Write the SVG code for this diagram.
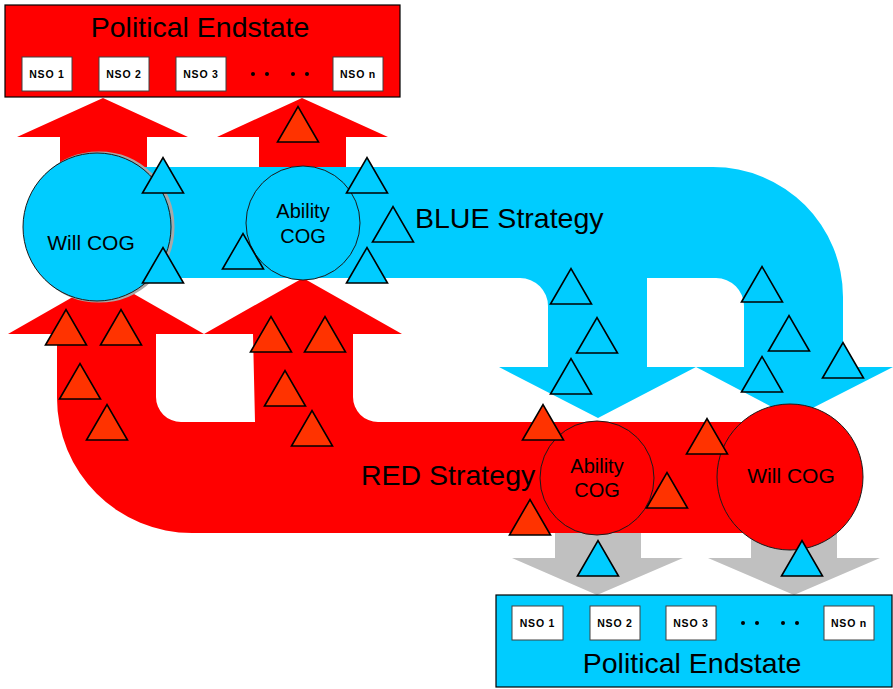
<svg xmlns="http://www.w3.org/2000/svg" xmlns:xlink="http://www.w3.org/1999/xlink" width="893" height="689" viewBox="0 0 893 689">
<style>
text{font-family:"Liberation Sans",Arial,sans-serif;fill:#000}
.red{fill:#FF0000}
.blue{fill:#00CCFF}
.gray{fill:#C0C0C0}
.node{stroke:#1a1a1a;stroke-width:1}
.nso{fill:#fff;stroke:#404040;stroke-width:1}
.nsot{font-size:10.5px;font-weight:bold;letter-spacing:0.8px;text-anchor:middle}
.title{font-size:28.5px;text-anchor:middle}
.strat{font-size:28.5px}
.cog{font-size:21px;text-anchor:middle}
.abl{font-size:20px;text-anchor:middle}
.bt{fill:#00CCFF;stroke:#000;stroke-width:1.6;stroke-linejoin:miter}
.rt{fill:#FF3300;stroke:#000;stroke-width:1.6;stroke-linejoin:miter}
</style>
<defs>
<path id="tri" d="M-20.5,0 L0,-35.5 L20.5,0 Z"/>
</defs>
<rect width="893" height="689" fill="#fff"/>
<g id="connectors">
<g id="red-top-arrows" class="red">
<path d="M60,172 L60,137 L17,137 L103,98 L188,137 L147,137 L147,172 Z"/>
<path d="M259,172 L259,137 L217,137 L302,98 L388,137 L346,137 L346,172 Z"/>
</g>
<path id="gray-arrows" class="gray" d="M555,530 L641,530 L641,558 L683,558 L597,595 L512,558 L555,558 Z M751,530 L837,530 L837,558 L880,558 L794,595 L708,558 L751,558 Z"/>
<path id="blue-strategy" class="blue" d="M100,167 L713,167 A130,130 0 0 1 843,297 L843,367 L893,367 L793,418 L696,367 L744,367 L744,306 A28,28 0 0 0 716,278 L647,278 L647,367 L696,367 L598,418 L499,367 L548,367 L548,306 A28,28 0 0 0 520,278 L100,278 Z"/>
<path id="red-strategy" class="red" d="M760,422 L378,422 A25,25 0 0 1 353,397 L353,334 L402,334 L303,278 L204,334 L253,334 L255,422 L181,422 A25,25 0 0 1 156,397 L156,334 L204,334 L106,278 L8,334 L57,334 L57,398 A135,135 0 0 0 192,533 L760,533 Z"/>
</g>
<g id="blue-will-cog">
<circle cx="99" cy="227" r="74" fill="none" stroke="#A8A8A8" stroke-width="3"/>
<circle class="blue node" cx="97" cy="227" r="74"/>
<text class="cog" x="91" y="250">Will COG</text>
</g>
<g id="blue-ability-cog">
<circle class="blue node" cx="303" cy="223" r="57"/>
<text class="abl" x="303" y="218">Ability</text>
<text class="abl" x="303" y="243">COG</text>
</g>
<g id="red-ability-cog">
<circle class="red node" cx="597" cy="478" r="57"/>
<text class="abl" x="597" y="473">Ability</text>
<text class="abl" x="597" y="497">COG</text>
</g>
<g id="red-will-cog">
<circle class="red node" cx="790" cy="477" r="73"/>
<text class="cog" x="791" y="483">Will COG</text>
</g>
<g id="red-endstate">
<rect class="red" x="5" y="5" width="395" height="92" stroke="#000" stroke-width="1.2"/>
<text class="title" x="200" y="37">Political Endstate</text>
<rect class="nso" x="22" y="57" width="50" height="34"/>
<rect class="nso" x="99" y="57" width="50" height="34"/>
<rect class="nso" x="176" y="57" width="50" height="34"/>
<rect class="nso" x="333" y="57" width="50" height="34"/>
<text class="nsot" x="47" y="78">NSO 1</text>
<text class="nsot" x="124" y="78">NSO 2</text>
<text class="nsot" x="201" y="78">NSO 3</text>
<text class="nsot" x="358" y="78">NSO n</text>
<g fill="#000"><circle cx="253" cy="74" r="2"/><circle cx="267" cy="74" r="2"/><circle cx="293" cy="74" r="2"/><circle cx="307" cy="74" r="2"/></g>
</g>
<g id="blue-endstate">
<rect class="blue" x="496" y="595" width="396" height="92" stroke="#000" stroke-width="1.2"/>
<rect class="nso" x="512" y="606" width="51" height="34"/>
<rect class="nso" x="590" y="606" width="50" height="34"/>
<rect class="nso" x="666" y="606" width="50" height="34"/>
<rect class="nso" x="824" y="606" width="50" height="34"/>
<text class="nsot" x="537.5" y="627">NSO 1</text>
<text class="nsot" x="615" y="627">NSO 2</text>
<text class="nsot" x="691" y="627">NSO 3</text>
<text class="nsot" x="849" y="627">NSO n</text>
<g fill="#000"><circle cx="743" cy="623" r="2"/><circle cx="757" cy="623" r="2"/><circle cx="783" cy="623" r="2"/><circle cx="797" cy="623" r="2"/></g>
<text class="title" x="692" y="673">Political Endstate</text>
</g>
<g id="blue-triangles">
<use xlink:href="#tri" class="bt" x="163" y="193"/>
<use xlink:href="#tri" class="bt" x="163" y="283"/>
<use xlink:href="#tri" class="bt" x="243" y="269"/>
<use xlink:href="#tri" class="bt" x="367" y="193"/>
<use xlink:href="#tri" class="bt" x="393" y="242"/>
<use xlink:href="#tri" class="bt" x="367" y="283"/>
<use xlink:href="#tri" class="bt" x="571" y="304"/>
<use xlink:href="#tri" class="bt" x="597" y="353"/>
<use xlink:href="#tri" class="bt" x="571" y="394"/>
<use xlink:href="#tri" class="bt" x="762" y="302"/>
<use xlink:href="#tri" class="bt" x="789" y="351"/>
<use xlink:href="#tri" class="bt" x="762" y="392"/>
<use xlink:href="#tri" class="bt" x="843" y="378"/>
<use xlink:href="#tri" class="bt" x="598" y="576"/>
<use xlink:href="#tri" class="bt" x="802" y="576"/>
</g>
<g id="red-triangles">
<use xlink:href="#tri" class="rt" x="298" y="142"/>
<use xlink:href="#tri" class="rt" x="66" y="345"/>
<use xlink:href="#tri" class="rt" x="121" y="345"/>
<use xlink:href="#tri" class="rt" x="80" y="399"/>
<use xlink:href="#tri" class="rt" x="107" y="440"/>
<use xlink:href="#tri" class="rt" x="271" y="352"/>
<use xlink:href="#tri" class="rt" x="325" y="352"/>
<use xlink:href="#tri" class="rt" x="285" y="406"/>
<use xlink:href="#tri" class="rt" x="312" y="446"/>
<use xlink:href="#tri" class="rt" x="543" y="440"/>
<use xlink:href="#tri" class="rt" x="530" y="535"/>
<use xlink:href="#tri" class="rt" x="667" y="508"/>
<use xlink:href="#tri" class="rt" x="707" y="454"/>
</g>
<g id="labels">
<text class="strat" x="415" y="228">BLUE Strategy</text>
<text class="strat" x="361" y="485">RED Strategy</text>
</g>
</svg>
